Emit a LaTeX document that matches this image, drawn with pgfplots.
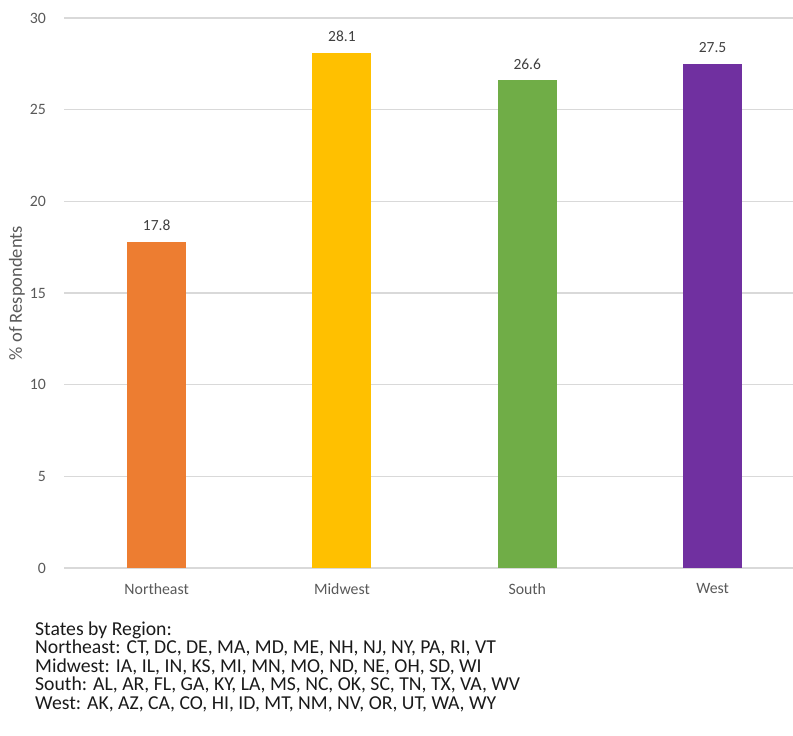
\documentclass[border=0pt]{standalone}
\usepackage{pgfplots}
\pgfplotsset{compat=1.18}
\usepackage{fontspec}
\setmainfont{Carlito}
\definecolor{cOrange}{HTML}{ED7D31}
\definecolor{cGold}{HTML}{FFC000}
\definecolor{cGreen}{HTML}{70AD47}
\definecolor{cPurple}{HTML}{7030A0}
\definecolor{cGrid}{HTML}{D9D9D9}
\definecolor{cTick}{HTML}{595959}
\definecolor{cLab}{HTML}{404040}
\definecolor{cText}{HTML}{1A1A1A}
\begin{document}
\begin{tikzpicture}
\useasboundingbox (-64bp,-168bp) rectangle (729bp,568bp);
\begin{axis}[
  scale only axis,
  width=729bp, height=550bp,
  xmin=-0.5, xmax=3.434,
  ymin=0, ymax=30,
  ytick={0,5,10,15,20,25,30},
  xtick={0,1,2,3},
  xticklabels={Northeast,Midwest,South,West},
  major tick length=0pt,
  axis line style={draw=none},
  ymajorgrids,
  grid style={draw=cGrid, line width=1.2bp},
  /pgf/number format/assume math mode=true,
  tick label style={font=\fontsize{15.8bp}{18bp}\selectfont, text=cTick, inner sep=0pt},
  yticklabel style={anchor=east, xshift=-18bp},
  xticklabel style={anchor=north, yshift=-15bp},
  ylabel={\% of Respondents},
  ylabel style={at={(axis description cs:0,0.5)}, anchor=center, yshift=47bp, font=\fontsize{18.5bp}{20bp}\selectfont, text=cTick},
  ybar, bar width=59bp, bar shift=0pt,
  nodes near coords,
  every node near coord/.append style={font=\fontsize{15.5bp}{18bp}\selectfont, text=cLab, anchor=south, inner sep=0pt, yshift=11bp},
  nodes near coords style={/pgf/number format/.cd, fixed, fixed zerofill, precision=1, assume math mode=true},
  clip=false,
]
\addplot[fill=cOrange, draw=none] coordinates {(0,17.8)};
\addplot[fill=cGold, draw=none] coordinates {(1,28.1)};
\addplot[fill=cGreen, draw=none] coordinates {(2,26.6)};
\addplot[fill=cPurple, draw=none] coordinates {(3,27.5)};
\end{axis}
\begin{scope}[every node/.style={anchor=base west, inner sep=0pt, text=cText, font=\fontsize{19.7bp}{20bp}\selectfont}]
\node at (-29bp,-67bp) {States by Region:};
\node at (-29bp,-85.5bp) {Northeast: CT, DC, DE, MA, MD, ME, NH, NJ, NY, PA, RI, VT};
\node at (-29bp,-104bp) {Midwest: IA, IL, IN, KS, MI, MN, MO, ND, NE, OH, SD, WI};
\node at (-29bp,-122.5bp) {South: AL, AR, FL, GA, KY, LA, MS, NC, OK, SC, TN, TX, VA, WV};
\node at (-29bp,-141bp) {West: AK, AZ, CA, CO, HI, ID, MT, NM, NV, OR, UT, WA, WY};
\end{scope}
\end{tikzpicture}
\end{document}
